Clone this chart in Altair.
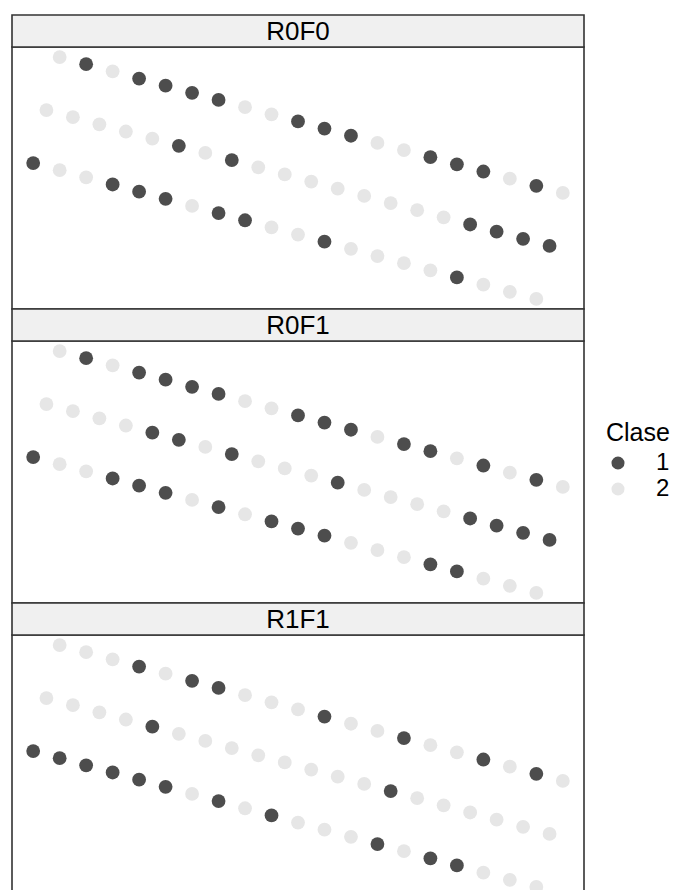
import altair as alt
import pandas as pd

# Panel names, in drawing order (top to bottom)
panels = ["R0F0", "R0F1", "R1F1"]

# Three diagonal bands of points (bottom, middle, top); positions shared by all panels
x_bottom = [0, 1, 2, 3, 4, 5, 6, 7, 8, 9, 10, 11, 12, 13, 14, 15, 16, 17, 18, 19]
y_bottom = [10.00, 9.73, 9.46, 9.19, 8.92, 8.65, 8.38, 8.11, 7.84, 7.57,
            7.30, 7.03, 6.76, 6.49, 6.22, 5.95, 5.68, 5.41, 5.14, 4.87]
x_middle = [0.5, 1.5, 2.5, 3.5, 4.5, 5.5, 6.5, 7.5, 8.5, 9.5,
            10.5, 11.5, 12.5, 13.5, 14.5, 15.5, 16.5, 17.5, 18.5, 19.5]
y_middle = [12.00, 11.73, 11.46, 11.19, 10.92, 10.65, 10.38, 10.11, 9.84, 9.57,
            9.30, 9.03, 8.76, 8.49, 8.22, 7.95, 7.68, 7.41, 7.14, 6.87]
x_top = [1, 2, 3, 4, 5, 6, 7, 8, 9, 10, 11, 12, 13, 14, 15, 16, 17, 18, 19, 20]
y_top = [14.00, 13.73, 13.46, 13.19, 12.92, 12.65, 12.38, 12.11, 11.84, 11.57,
         11.30, 11.03, 10.76, 10.49, 10.22, 9.95, 9.68, 9.41, 9.14, 8.87]

# Class of every point, per panel and band (left to right)
clase_r0f0_top    = [2, 1, 2, 1, 1, 1, 1, 2, 2, 1, 1, 1, 2, 2, 1, 1, 1, 2, 1, 2]
clase_r0f0_middle = [2, 2, 2, 2, 2, 1, 2, 1, 2, 2, 2, 2, 2, 2, 2, 2, 1, 1, 1, 1]
clase_r0f0_bottom = [1, 2, 2, 1, 1, 1, 2, 1, 1, 2, 2, 1, 2, 2, 2, 2, 1, 2, 2, 2]

clase_r0f1_top    = [2, 1, 2, 1, 1, 1, 1, 2, 2, 1, 1, 1, 2, 1, 1, 2, 1, 2, 1, 2]
clase_r0f1_middle = [2, 2, 2, 2, 1, 1, 2, 1, 2, 2, 2, 1, 2, 2, 2, 2, 1, 1, 1, 1]
clase_r0f1_bottom = [1, 2, 2, 1, 1, 1, 2, 1, 2, 1, 1, 1, 2, 2, 2, 1, 1, 2, 2, 2]

clase_r1f1_top    = [2, 2, 2, 1, 2, 1, 1, 2, 2, 2, 1, 2, 2, 1, 2, 2, 1, 2, 1, 2]
clase_r1f1_middle = [2, 2, 2, 2, 1, 2, 2, 2, 2, 2, 2, 2, 2, 1, 2, 2, 2, 2, 2, 2]
clase_r1f1_bottom = [1, 1, 1, 1, 1, 1, 2, 1, 2, 1, 2, 2, 2, 1, 2, 1, 1, 2, 2, 2]

bands = [(x_bottom, y_bottom), (x_middle, y_middle), (x_top, y_top)]
classes = {
    "R0F0": [clase_r0f0_bottom, clase_r0f0_middle, clase_r0f0_top],
    "R0F1": [clase_r0f1_bottom, clase_r0f1_middle, clase_r0f1_top],
    "R1F1": [clase_r1f1_bottom, clase_r1f1_middle, clase_r1f1_top],
}

rows = []
for p in panels:
    for (xs, ys), cs in zip(bands, classes[p]):
        for xv, yv, cv in zip(xs, ys, cs):
            rows.append({"Panel": p, "x": xv, "y": yv, "Clase": str(cv)})
df = pd.DataFrame(rows)

W, H, STRIP = 572, 262, 32
FONT = "Liberation Sans"
EDGE = "#333333"

points = alt.Chart().mark_circle(size=190, opacity=1).encode(
    x=alt.X("x:Q", scale=alt.Scale(domain=[-0.8, 20.8], nice=False, zero=False), axis=None),
    y=alt.Y("y:Q", scale=alt.Scale(domain=[4.49, 14.38], nice=False, zero=False), axis=None),
    color=alt.Color(
        "Clase:N",
        scale=alt.Scale(domain=["1", "2"], range=["#4D4D4D", "#E6E6E6"]),
        legend=alt.Legend(
            title="Clase", orient="none", legendX=594, legendY=374,
            titleFont=FONT, titleFontSize=25, titleFontWeight="normal", titleColor="black",
            titlePadding=5,
            labelFont=FONT, labelFontSize=24, labelColor="black", labelOffset=26,
            symbolType="circle", symbolSize=170, symbolOffset=0, symbolStrokeWidth=0,
            rowPadding=2,
        ),
    ),
)

# Strip above each panel holding its name
strip = alt.Chart().transform_aggregate(n="count()", groupby=["Panel"]).mark_rect(
    fill="#F0F0F0", stroke=EDGE, strokeWidth=1.6
).encode(x=alt.value(0), x2=alt.value(W), y=alt.value(-STRIP), y2=alt.value(0))

strip_text = alt.Chart().transform_aggregate(n="count()", groupby=["Panel"]).mark_text(
    font=FONT, fontSize=26, color="black", baseline="middle", align="center"
).encode(x=alt.value(W / 2), y=alt.value(-STRIP / 2 + 1), text="Panel:N")

chart = (
    alt.layer(strip, points, strip_text, data=df)
    .properties(width=W, height=H)
    .facet(row=alt.Row("Panel:N", sort=panels, header=None), spacing=STRIP, bounds="flush")
    .configure_view(stroke=EDGE, strokeWidth=1.6)
    .properties(padding={"left": 10, "top": 13, "right": 0, "bottom": 0})
)

chart.save("out.html", embed_options={"renderer": "svg", "actions": False})
